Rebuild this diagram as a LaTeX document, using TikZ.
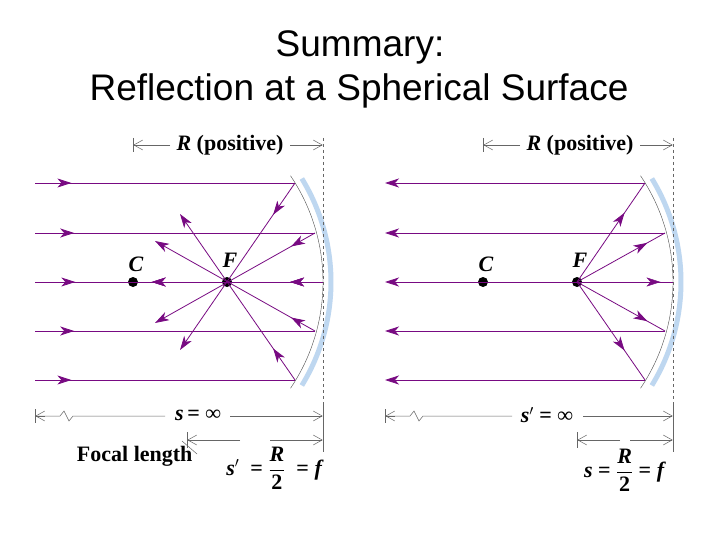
\documentclass[tikz,border=0pt]{standalone}
\usepackage{fontspec}
\setmainfont{Liberation Serif}
\newfontfamily\titlefont{Liberation Sans}
\usetikzlibrary{arrows.meta,decorations.markings,calc}
\definecolor{ray}{RGB}{120,10,130}
\definecolor{mirr}{RGB}{190,215,240}
\tikzset{
 ray/.style={draw=ray,line width=0.8pt},
 tip/.style={-{Stealth[length=14pt,width=9pt,inset=4pt]}},
 mk/.style={postaction={decorate},decoration={markings,mark=at position #1 with {\arrow{Stealth[length=14pt,width=9pt,inset=4pt,ray]}}}},
 dim/.style={draw=gray!80!black,line width=0.5pt},
 barb/.style={-{Straight Barb[length=9pt,width=10pt]}},
 big/.style={font=\bfseries\fontsize{22}{22}\selectfont},
 lbl/.style={font=\bfseries\itshape\fontsize{22}{22}\selectfont},
 txt/.style={font=\bfseries\fontsize{22}{22}\selectfont},
 dot/.style={circle,fill=black,inner sep=0pt,minimum size=10pt}
}
\begin{document}
\begin{tikzpicture}[x=1pt,y=-1pt]
\path[use as bounding box,fill=white] (0,0) rectangle (720,540);
\node[font=\titlefont\fontsize{37}{37}\selectfont] (t1) at (360,47) {Summary:};
\node[font=\titlefont\fontsize{37}{37}\selectfont] (t2) at (359,91) {Reflection at a Spherical Surface};

\foreach \o/\nm in {0/L,350/R}{
 \begin{scope}[xshift=\o]
  \draw[mirr,line width=5pt] (133,282) ++(-31.5:198) arc[start angle=-31.5,end angle=31.5,radius=198];
  \draw[black!70,line width=0.4pt] (133,282) ++(-34:190) arc[start angle=-34,end angle=34,radius=190];
  \draw[dim,dashed] (323,138) -- (323,452);
  \draw[dim] (133,138) -- (133,152);
  \draw[dim,barb] (170,145) -- (133.3,145);
  \draw[dim,barb] (290,145) -- (322.7,145);
  \node[big] (r\nm) at (230,145) {\textit{R} (positive)};
  \node[dot] (C\nm) at (133,282) {};
  \node[dot] (F\nm) at (227,282) {};
  \node[lbl] at (136,264) {C};
  \node[lbl] at (230,260) {F};
  \draw[dim] (35,409) -- (35,423);
  \draw[dim] (323,405) -- (323,452);
 \end{scope}}

% left panel
\foreach \y/\hx in {183/295,233/315,331/315,380/295}{
 \draw[ray,mk=0.14] (35,\y) -- (\hx,\y);}
\draw[ray,mk=0.14] (35,282) -- (323,282);
\draw[ray,mk=0.19,tip] (295,183) -- (180,350);
\draw[ray,mk=0.15,tip] (315,233) -- (155,323);
\draw[ray,mk=0.15,tip] (315,331) -- (155,241);
\draw[ray,mk=0.19,tip] (295,380) -- (180,214);
\path[mk=0.19,mk=0.99] (323,282) -- (150,282);

% right panel
\foreach \y/\hx in {183/645,233/665,331/665,380/645}{
 \draw[ray,tip] (\hx,\y) -- (385,\y);}
\draw[ray,tip] (673,282) -- (385,282);
\path[mk=0.87] (577,282) -- (673,282);
\draw[ray,mk=0.7] (577,282) -- (645,183);
\draw[ray,mk=0.8] (577,282) -- (665,233);
\draw[ray,mk=0.8] (577,282) -- (665,331);
\draw[ray,mk=0.7] (577,282) -- (645,380);

% bottom left dims
\draw[dim] (35,416) -- (60,416) -- (64,411) -- (69,421) -- (73,416) -- (165,416);
\draw[dim,barb] (45,416) -- (35.3,416);
\node[lbl] (sl) at (198,415) {s\,\upshape = ∞};
\draw[dim,barb] (230,416) -- (322.7,416);
\draw[dim] (187,432) -- (187,448);
\draw[dim,barb] (240,440) -- (187.3,440);
\draw[dim,barb] (270,440) -- (322.7,440);
\node[txt,anchor=east] (fl) at (196,456) {Focal length};
\draw[dim] (fl.east) ++(1,-2) -- (182,441);
\node[big] (eqL) at (275,468) {\textit{s}$'$\enspace = $\displaystyle\frac{\textbf{\textit{R}}}{\textbf{2}}$\enspace = \textit{f}};

% bottom right dims
\draw[dim] (385,416) -- (410,416) -- (414,411) -- (419,421) -- (423,416) -- (512,416);
\draw[dim,barb] (395,416) -- (385.3,416);
\draw[dim] (385,409) -- (385,423);
\node[big] (sr) at (547,415) {\textit{s}$'$ = ∞};
\draw[dim,barb] (583,416) -- (672.7,416);
\draw[dim] (577,432) -- (577,448);
\draw[dim,barb] (620,440) -- (577.3,440);
\draw[dim,barb] (630,440) -- (672.7,440);
\node[big] (eqR) at (625,470) {\textit{s} = $\displaystyle\frac{\textbf{\textit{R}}}{\textbf{2}}$ = \textit{f}};
\end{tikzpicture}
\end{document}
